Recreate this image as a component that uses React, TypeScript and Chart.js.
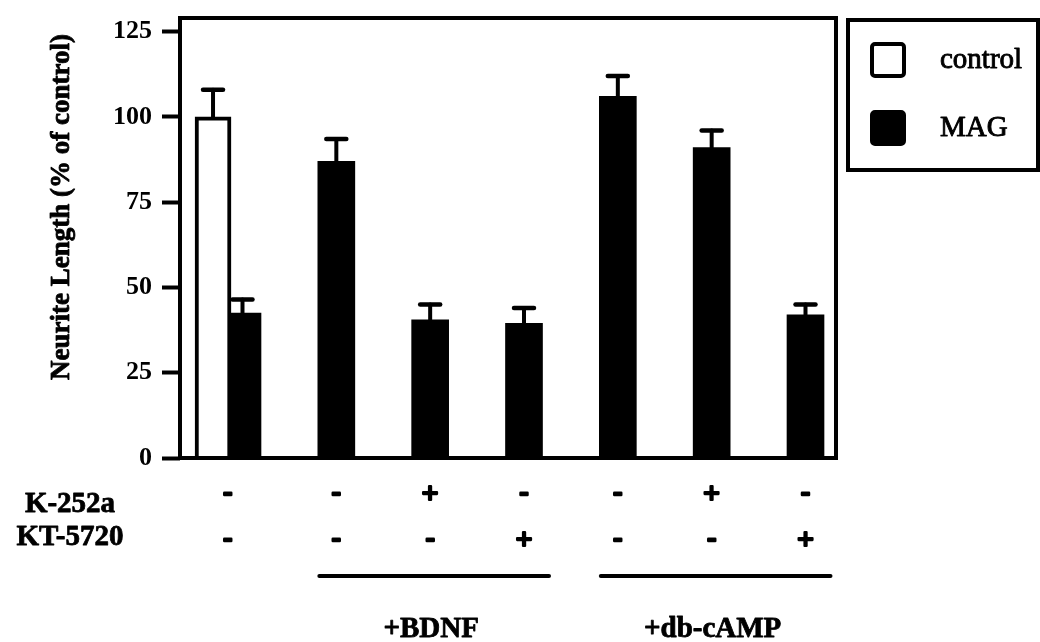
import React, { useEffect, useRef } from 'react';
import Chart from 'chart.js/auto';

// ---- data ----
const conditions = ['none', 'BDNF', 'BDNF + K-252a', 'BDNF + KT-5720', 'db-cAMP', 'db-cAMP + K-252a', 'db-cAMP + KT-5720'];
const magValues = [42.5, 87, 40.5, 39.5, 106, 91, 42];
const magErrors = [4, 6.5, 4.5, 4.5, 6, 5, 3];
const controlGroups = [0];
const controlValues = [100];
const controlErrors = [8];
const k252aSigns = ['-', '-', '+', '-', '-', '+', '-'];
const kt5720Signs = ['-', '-', '-', '+', '-', '-', '+'];
const treatmentNames = ['+BDNF', '+db-cAMP'];
const treatmentFirst = [1, 4];
const treatmentLast = [3, 6];
const rowNames = ['K-252a', 'KT-5720'];
const yTicks = [0, 25, 50, 75, 100, 125];
const yTitle = 'Neurite Length (% of control)';
const seriesNames = ['control', 'MAG'];

// ---- layout constants ----
const W = 1040;
const H = 642;
const FONT = '"Liberation Serif", "Times New Roman", Times, serif';
const CONTROL_SHIFT = 0.314;

export default function App() {
  const ref = useRef<HTMLCanvasElement>(null);

  useEffect(() => {
    const canvas = ref.current;
    if (!canvas) return;

    const groupCenter = (chart: any, g: number) => {
      const xs = chart.scales.x;
      const pos: number[] = [g];
      if (controlGroups.includes(g)) pos.push(g - CONTROL_SHIFT);
      const mean = pos.reduce((a, b) => a + b, 0) / pos.length;
      return xs.getPixelForValue(mean);
    };

    const heavyText = (ctx: any, s: string, x: number, y: number, w: number) => {
      ctx.fillText(s, x, y);
      if (w > 0) {
        ctx.lineWidth = w;
        ctx.lineJoin = 'round';
        ctx.strokeText(s, x, y);
      }
    };

    const decor = {
      id: 'decor',
      afterDatasetsDraw(chart: any) {
        const ctx = chart.ctx;
        const ys = chart.scales.y;
        const area = chart.chartArea;
        ctx.save();
        // error bars
        chart.data.datasets.forEach((ds: any, di: number) => {
          const meta = chart.getDatasetMeta(di);
          meta.data.forEach((bar: any, i: number) => {
            const v = ds.data[i].y;
            const e = ds.errors[i];
            const yBar = ys.getPixelForValue(v);
            const yTop = ys.getPixelForValue(v + e);
            ctx.strokeStyle = '#000';
            ctx.lineWidth = 4;
            ctx.lineCap = 'round';
            ctx.beginPath();
            ctx.moveTo(bar.x, yBar);
            ctx.lineTo(bar.x, yTop);
            ctx.stroke();
            ctx.lineWidth = 4.5;
            ctx.beginPath();
            ctx.moveTo(bar.x - 10, yTop);
            ctx.lineTo(bar.x + 10, yTop);
            ctx.stroke();
          });
        });
        // plot frame
        ctx.lineCap = 'butt';
        ctx.lineJoin = 'miter';
        ctx.lineWidth = 4;
        ctx.strokeStyle = '#000';
        ctx.strokeRect(area.left, area.top, area.right - area.left, area.bottom - area.top);
        ctx.restore();
      },
      afterDraw(chart: any) {
        const ctx = chart.ctx;
        ctx.save();
        ctx.fillStyle = '#000';
        ctx.strokeStyle = '#000';

        // y title
        ctx.save();
        ctx.translate(62, 207);
        ctx.rotate(-Math.PI / 2);
        ctx.font = `bold 27px ${FONT}`;
        ctx.textAlign = 'center';
        ctx.textBaseline = 'middle';
        heavyText(ctx, yTitle, 0, 0, 0.8);
        ctx.restore();

        // row names
        ctx.font = `bold 29px ${FONT}`;
        ctx.textAlign = 'center';
        ctx.textBaseline = 'alphabetic';
        heavyText(ctx, rowNames[0], 70, 512, 0.8);
        heavyText(ctx, rowNames[1], 70, 545, 0.8);

        // signs
        const rows = [k252aSigns, kt5720Signs];
        const rowY = [496, 542];
        ctx.textAlign = 'center';
        ctx.textBaseline = 'middle';
        rows.forEach((signs, r) => {
          signs.forEach((s, g) => {
            const x = groupCenter(chart, g);
            if (s === '-') {
              ctx.font = `bold 27px ${FONT}`;
              heavyText(ctx, s, x, rowY[r] - 3, 2.5);
            } else {
              ctx.font = `bold 30px ${FONT}`;
              heavyText(ctx, s, x, rowY[r] - 1, 2.2);
            }
          });
        });

        // treatment lines and names
        treatmentNames.forEach((name, t) => {
          const x0 = groupCenter(chart, treatmentFirst[t]) - 17;
          const x1 = groupCenter(chart, treatmentLast[t]) + 25;
          ctx.lineWidth = 4;
          ctx.lineCap = 'round';
          ctx.beginPath();
          ctx.moveTo(x0, 576);
          ctx.lineTo(x1, 576);
          ctx.stroke();
          ctx.font = `bold 29px ${FONT}`;
          ctx.textAlign = 'center';
          ctx.textBaseline = 'alphabetic';
          heavyText(ctx, name, (x0 + x1) / 2 - 3, 637, 0.8);
        });

        // legend
        ctx.lineCap = 'butt';
        ctx.lineJoin = 'miter';
        ctx.lineWidth = 4;
        ctx.strokeRect(848, 20, 1038 - 848, 150);
        const sy = [42, 110];
        chart.data.datasets.forEach((ds: any, di: number) => {
          ctx.fillStyle = ds.backgroundColor;
          ctx.beginPath();
          ctx.roundRect(872, sy[di] + 2, 32, 32, 3);
          ctx.fill();
          ctx.lineWidth = 4;
          ctx.strokeStyle = '#000';
          ctx.stroke();
          ctx.fillStyle = '#000';
          ctx.font = `29px ${FONT}`;
          ctx.textAlign = 'left';
          ctx.textBaseline = 'middle';
          heavyText(ctx, ds.label, 940, sy[di] + 18, 0.9);
        });
        ctx.restore();
      },
    };

    const chart = new Chart(canvas, {
      type: 'bar',
      data: {
        datasets: [
          {
            label: seriesNames[0],
            data: controlGroups.map((g, i) => ({ x: g - CONTROL_SHIFT, y: controlValues[i] })),
            errors: controlErrors,
            backgroundColor: '#ffffff',
            borderColor: '#000000',
            borderWidth: 4,
            borderSkipped: 'start',
            barThickness: 36,
            grouped: false,
          } as any,
          {
            label: seriesNames[1],
            data: magValues.map((v, i) => ({ x: i, y: v })),
            errors: magErrors,
            backgroundColor: '#000000',
            borderWidth: 0,
            barThickness: 37,
            grouped: false,
          } as any,
        ],
      },
      options: {
        responsive: false,
        animation: false,
        devicePixelRatio: 1,
        events: [],
        layout: { padding: { left: 0, top: 18, right: W - 836, bottom: 0 } },
        plugins: { legend: { display: false }, tooltip: { enabled: false } },
        scales: {
          x: {
            type: 'linear',
            offset: false,
            min: -0.666,
            max: 6.325,
            grid: { display: false },
            border: { display: false },
            ticks: { display: false },
            afterFit: (s: any) => {
              s.height = H - 458;
              s.paddingLeft = 0;
              s.paddingRight = 0;
            },
          },
          y: {
            type: 'linear',
            min: 0,
            max: 129,
            afterBuildTicks: (s: any) => {
              s.ticks = yTicks.map((v) => ({ value: v }));
            },
            ticks: {
              stepSize: 25,
              includeBounds: false,
              color: '#000',
              padding: 10,
              font: { family: FONT, size: 26, weight: 'bold' },
            },
            grid: {
              display: true,
              drawOnChartArea: false,
              drawTicks: true,
              tickLength: 18,
              tickWidth: 4,
              tickColor: '#000',
            },
            border: { display: false },
            afterFit: (s: any) => {
              s.width = 180;
              s.paddingTop = 0;
              s.paddingBottom = 0;
            },
          },
        },
      } as any,
      plugins: [decor],
    });

    return () => chart.destroy();
  }, []);

  return (
    <div style={{ position: 'absolute', left: 0, top: 0, width: W, height: H, background: '#fff' }}>
      <canvas ref={ref} width={W} height={H} style={{ display: 'block' }} />
    </div>
  );
}
